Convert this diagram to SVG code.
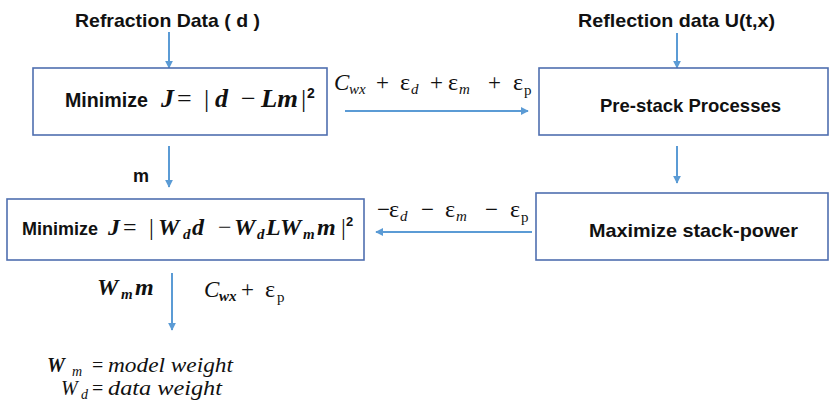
<svg xmlns="http://www.w3.org/2000/svg" width="829" height="404" viewBox="0 0 829 404">
<style>
.box{fill:#fff;stroke:#4F6FB0;stroke-width:1.6}
.lbl{font-family:"Liberation Sans",Arial,sans-serif;font-weight:bold;fill:#111}
.math{font-family:"Liberation Serif","Times New Roman",serif;fill:#111}
.bi{font-style:italic;font-weight:bold}
.it{font-style:italic}
.sub{font-size:15px}
.eps{font-size:24px}
.arr{stroke:#5B9BD5;stroke-width:2;fill:none;marker-end:url(#ah)}
</style>
<defs>
<marker id="ah" viewBox="0 0 10 10" refX="9" refY="5" markerWidth="4" markerHeight="4" orient="auto" markerUnits="strokeWidth">
<path d="M0,0 L10,5 L0,10 z" fill="#5B9BD5"/>
</marker>
</defs>
<rect width="829" height="404" fill="#fff"/>
<g id="connectors">
<line class="arr" x1="169" y1="32" x2="169" y2="68"/>
<line class="arr" x1="677" y1="33" x2="677" y2="68"/>
<line class="arr" x1="169" y1="146" x2="169" y2="187"/>
<line class="arr" x1="677" y1="146" x2="677" y2="183"/>
<line class="arr" x1="345" y1="111" x2="528" y2="111"/>
<line class="arr" x1="532" y1="232" x2="376" y2="232"/>
<line class="arr" x1="172" y1="273" x2="172" y2="330"/>
</g>
<g id="refraction-data"><text class="lbl" x="75" y="27" font-size="19" textLength="185" lengthAdjust="spacingAndGlyphs">Refraction Data ( d )</text></g>
<g id="reflection-data"><text class="lbl" x="578" y="27" font-size="19" textLength="197" lengthAdjust="spacingAndGlyphs">Reflection data U(t,x)</text></g>
<g id="minimize1">
<rect class="box" x="33" y="68" width="294" height="67"/>
<text class="lbl" x="65" y="107" font-size="19.5" textLength="83" lengthAdjust="spacingAndGlyphs">Minimize</text>
<text class="math" y="107" font-size="26"><tspan class="bi" x="161">J</tspan><tspan x="177">=</tspan><tspan x="204">|</tspan><tspan class="bi" x="215">d</tspan><tspan x="241">−</tspan><tspan class="bi" x="261" textLength="37" lengthAdjust="spacingAndGlyphs">Lm</tspan><tspan x="301">|</tspan><tspan class="lbl" font-size="14" x="307" y="98">2</tspan></text>
</g>
<g id="prestack">
<rect class="box" x="539" y="68" width="289" height="67"/>
<text class="lbl" x="600" y="112" font-size="19" textLength="181" lengthAdjust="spacingAndGlyphs">Pre-stack Processes</text>
</g>
<g id="minimize2">
<rect class="box" x="7" y="199" width="357" height="61"/>
<text class="lbl" x="22" y="235" font-size="17.5" textLength="76" lengthAdjust="spacingAndGlyphs">Minimize</text>
<text class="math" y="235" font-size="24"><tspan class="bi" x="108">J</tspan><tspan x="123">=</tspan><tspan x="149">|</tspan><tspan class="bi" x="158">W</tspan><tspan class="bi sub" x="183" y="239">d</tspan><tspan class="bi" x="192" y="235">d</tspan><tspan x="218">−</tspan><tspan class="bi" x="234">W</tspan><tspan class="bi sub" x="257" y="239">d</tspan><tspan class="bi" x="266" y="235">L</tspan><tspan class="bi" x="280">W</tspan><tspan class="bi sub" x="303" y="239">m</tspan><tspan class="bi" x="317" y="235">m</tspan><tspan x="341">|</tspan><tspan class="lbl" font-size="13" x="346" y="226">2</tspan></text>
</g>
<g id="maximize">
<rect class="box" x="536" y="193" width="292" height="67"/>
<text class="lbl" x="589" y="237" font-size="19" textLength="209" lengthAdjust="spacingAndGlyphs">Maximize stack-power</text>
</g>
<g id="edge-labels">
<text class="lbl" x="133" y="182" font-size="18">m</text>
<text class="math" y="90" font-size="23"><tspan class="it" x="334">C</tspan><tspan class="it sub" x="349" y="94">wx</tspan><tspan x="376" y="90">+</tspan><tspan class="eps" x="400">ε</tspan><tspan class="it sub" x="411" y="94">d</tspan><tspan x="430" y="90">+</tspan><tspan class="eps" x="448">ε</tspan><tspan class="it sub" x="459" y="94">m</tspan><tspan x="488" y="90">+</tspan><tspan class="eps" x="513">ε</tspan><tspan class="sub" x="524" y="95">p</tspan></text>
<text class="math" y="217" font-size="23"><tspan x="377">−</tspan><tspan class="eps" x="389">ε</tspan><tspan class="it sub" x="400" y="221">d</tspan><tspan x="421" y="217">−</tspan><tspan class="eps" x="445">ε</tspan><tspan class="it sub" x="456" y="221">m</tspan><tspan x="485" y="217">−</tspan><tspan class="eps" x="510">ε</tspan><tspan class="sub" x="521" y="222">p</tspan></text>
<text class="math" y="295" font-size="24"><tspan class="bi" x="97">W</tspan><tspan class="bi sub" x="121" y="299">m</tspan><tspan class="bi" x="135" y="295">m</tspan></text>
<text class="math" y="297" font-size="23"><tspan class="it" x="204">C</tspan><tspan class="bi sub" x="219" y="301">wx</tspan><tspan x="241" y="297">+</tspan><tspan class="eps" x="265">ε</tspan><tspan class="sub" x="277" y="302">p</tspan></text>
</g>
<g id="legend">
<text class="math" y="372" font-size="20"><tspan class="bi" x="47">W</tspan><tspan class="it" font-size="14" x="72" y="376">m</tspan><tspan x="92" y="372">=</tspan><tspan class="it" x="108" textLength="125" lengthAdjust="spacingAndGlyphs">model weight</tspan></text>
<text class="math" y="395" font-size="20"><tspan class="it" x="61">W</tspan><tspan class="it" font-size="14" x="81" y="399">d</tspan><tspan x="92" y="395">=</tspan><tspan class="it" x="108" textLength="114" lengthAdjust="spacingAndGlyphs">data weight</tspan></text>
</g>
</svg>
